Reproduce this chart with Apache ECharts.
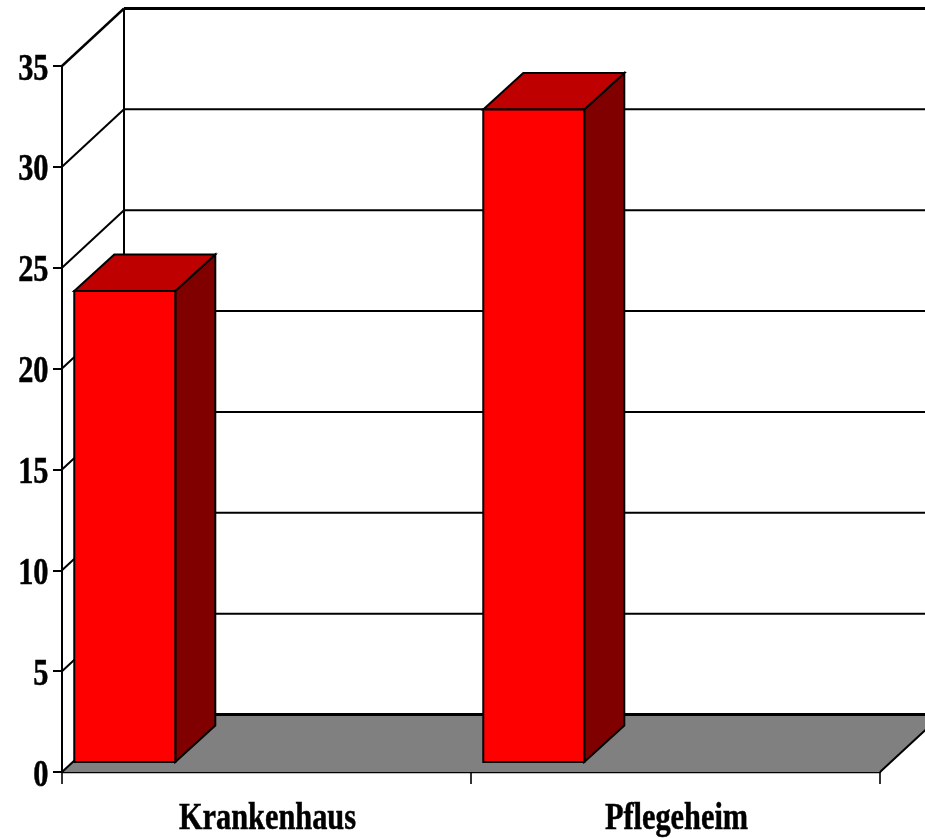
<!DOCTYPE html>
<html>
<head>
<meta charset="utf-8">
<style>html,body{margin:0;padding:0;background:#fff}#c{width:925px;height:838px}</style>
<script src="https://cdn.jsdelivr.net/npm/echarts@6/dist/echarts.min.js"></script>
</head>
<body>
<div id="c"></div>
<script>
var categories = ['Krankenhaus', 'Pflegeheim'];
var values = [23.35, 32.35];
var yTicks = [0, 5, 10, 15, 20, 25, 30, 35];

var WALL_DX = 62, WALL_DY = -57.5;
var BAR_DY = -10, BAR_DEPTH_X = 40, BAR_DEPTH_Y = -36.5;
var BAR_START = 0.03, BAR_WIDTH = 0.247;
var FONT = 'bold 37px "Liberation Serif", "Times New Roman", serif';
var LINE = '#000';

function line(x1, y1, x2, y2, w) {
  return { type: 'line', shape: { x1: x1, y1: y1, x2: x2, y2: y2 }, style: { stroke: LINE, lineWidth: w } };
}
function poly(points, fill) {
  return { type: 'polygon', shape: { points: points }, style: { fill: fill, stroke: LINE, lineWidth: 2, lineJoin: 'miter' } };
}
function label(x, y, text, scale, align) {
  return {
    type: 'text', x: x, y: y, scaleX: scale,
    style: { text: text, font: FONT, fill: '#000', stroke: '#000', lineWidth: 0.5, textAlign: align, textVerticalAlign: 'middle', verticalAlign: 'middle' }
  };
}

function renderWalls(params, api) {
  var cs = params.coordSys;
  var tick = api.value(1);
  var y = api.coord([0, tick])[1];
  var x0 = cs.x, x1 = cs.x + cs.width;
  var last = yTicks[yTicks.length - 1];
  var kids = [];
  if (tick === 0) {
    kids.push({ type: 'polygon', shape: { points: [[x0, y], [x1, y], [x1 + WALL_DX, y + WALL_DY], [x0 + WALL_DX, y + WALL_DY]] }, style: { fill: '#808080' } });
    kids.push(line(x1, y, x1 + WALL_DX, y + WALL_DY, 2));
  }
  if (tick === last) {
    kids.push(line(x0 + WALL_DX, y + WALL_DY, x0 + WALL_DX, api.coord([0, 0])[1] + WALL_DY, 2));
  }
  var edge = (tick === 0) ? 3 : (tick === last ? 3 : 2);
  kids.push(line(x0, y, x0 + WALL_DX, y + WALL_DY, tick === last ? 2.4 : 2));
  kids.push(line(x0 + WALL_DX, y + WALL_DY, x1 + WALL_DX, y + WALL_DY, edge));
  return { type: 'group', children: kids };
}

function renderBar(params, api) {
  var idx = api.value(0);
  var band = api.size([1, 0])[0];
  var cx = api.coord([idx, 0])[0];
  var left = cx - band / 2 + band * BAR_START;
  var right = left + band * BAR_WIDTH;
  var base = api.coord([idx, 0])[1] + BAR_DY;
  var top = api.coord([idx, api.value(1)])[1] + BAR_DY;
  var dx = BAR_DEPTH_X, dy = BAR_DEPTH_Y;
  return {
    type: 'group',
    children: [
      poly([[right, top], [right + dx, top + dy], [right + dx, base + dy], [right, base]], '#800000'),
      poly([[left, top], [left + dx, top + dy], [right + dx, top + dy], [right, top]], '#bf0000'),
      poly([[left, top], [right, top], [right, base], [left, base]], '#ff0000')
    ]
  };
}

function renderYLabel(params, api) {
  var p = api.coord([0, api.value(1)]);
  return label(params.coordSys.x - 13.5, p[1] + 4, String(api.value(1)), 0.82, 'right');
}
function renderXLabel(params, api) {
  var i = api.value(0);
  var p = api.coord([i, 0]);
  return label(p[0] + 1, p[1] + 47, categories[i], 0.82, 'center');
}

var chart = echarts.init(document.getElementById('c'), null, { renderer: 'canvas' });
chart.setOption({
  animation: false,
  backgroundColor: '#fff',
  tooltip: { show: false },
  grid: { left: 62, right: 45, top: 66, bottom: 66, containLabel: false },
  xAxis: {
    type: 'category', data: categories, boundaryGap: true,
    axisLine: { show: true, lineStyle: { color: '#000', width: 2.4 } },
    axisTick: { show: true, alignWithLabel: false, length: 12, lineStyle: { color: '#000', width: 1.6 } },
    axisLabel: { show: false }, splitLine: { show: false }
  },
  yAxis: {
    type: 'value', min: 0, max: 35, interval: 5,
    axisLine: { show: true, lineStyle: { color: '#000', width: 2 } },
    axisTick: { show: true, length: 9, lineStyle: { color: '#000', width: 2 } },
    axisLabel: { show: false }, splitLine: { show: false }
  },
  series: [
    { type: 'custom', clip: false, silent: true, z: 1, renderItem: renderWalls, encode: { x: 0, y: 1 },
      data: yTicks.map(function (t) { return [0, t]; }) },
    { type: 'custom', clip: false, silent: true, z: 2, renderItem: renderBar, encode: { x: 0, y: 1 },
      data: values.map(function (v, i) { return [i, v]; }) },
    { type: 'custom', clip: false, silent: true, z: 3, renderItem: renderYLabel, encode: { x: 0, y: 1 },
      data: yTicks.map(function (t) { return [0, t]; }) },
    { type: 'custom', clip: false, silent: true, z: 3, renderItem: renderXLabel, encode: { x: 0, y: 1 },
      data: categories.map(function (c, i) { return [i, 0]; }) }
  ]
});
</script>
</body>
</html>
